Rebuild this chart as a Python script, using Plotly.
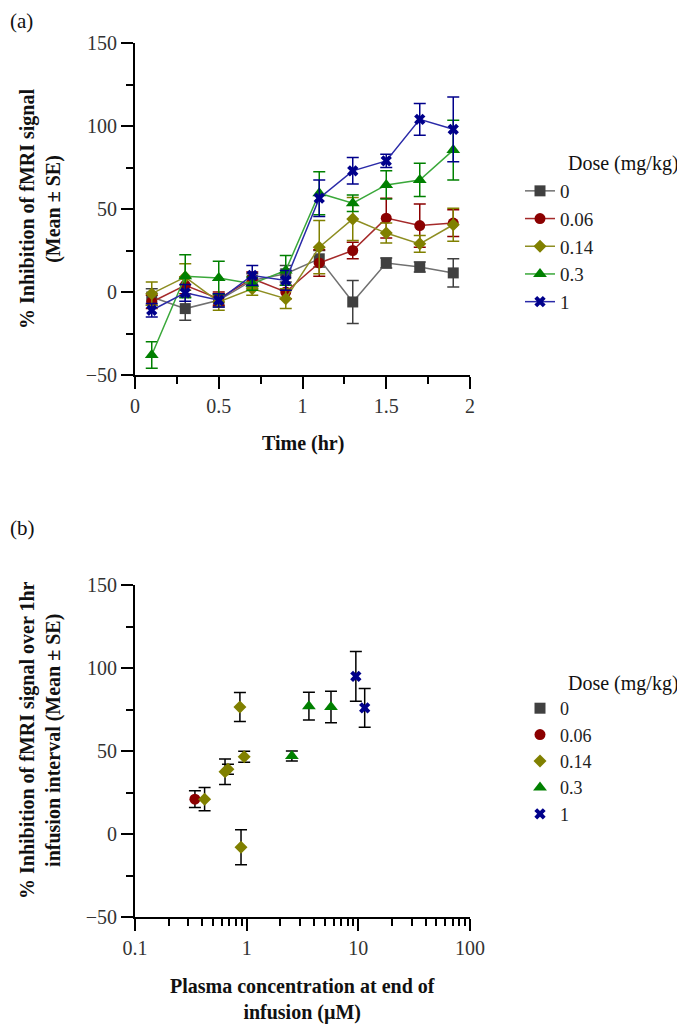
import plotly.graph_objects as go

# ---------------- Panel (a) data ----------------
time_hr = [0.1, 0.3, 0.5, 0.7, 0.9, 1.1, 1.3, 1.5, 1.7, 1.9]
dose_labels = ["0", "0.06", "0.14", "0.3", "1"]

mean_d0 = [-3, -10, -5, 7, 11, 20, -6, 17.5, 15, 11.5]
se_d0 = [5, 7, 4, 4, 5, 5, 13, 3, 3, 8.5]
mean_d006 = [-6, 4, -4, 8, 0, 17.5, 25, 44.5, 40, 41.5]
se_d006 = [4, 5, 4, 4, 4, 8, 5, 12, 13, 8]
mean_d014 = [-1, 9, -6, 2, -4, 27, 44, 35.5, 29, 40.5]
se_d014 = [7, 8, 5, 4, 6, 16, 13, 6, 5, 10]
mean_d03 = [-38, 9.5, 8.5, 5, 13, 59.5, 53.5, 64.5, 67.5, 85.5]
se_d03 = [8, 13, 10, 4, 9, 13, 5, 8.5, 10, 18]
mean_d1 = [-11, -0.5, -5, 10, 7, 56.5, 73, 79, 104, 98]
se_d1 = [4, 5, 4, 6, 6, 11, 8, 4, 9.5, 19.5]

# ---------------- Panel (b) data ----------------
conc_d0 = [None]
inh_d0 = [None]
se_b_d0 = [None]
conc_d006 = [0.344]
inh_d006 = [21]
se_b_d006 = [5]
conc_d014 = [0.42, 0.64, 0.68, 0.87, 0.89, 0.95]
inh_d014 = [21, 37.5, 39, 76.5, -8, 46.5]
se_b_d014 = [7, 7.7, 3, 8.8, 10.5, 3.3]
conc_d03 = [2.54, 3.61, 5.69]
inh_d03 = [47, 77, 76.5]
se_b_d03 = [3, 8.4, 9.5]
conc_d1 = [9.5, 11.4]
inh_d1 = [95, 76]
se_b_d1 = [15, 11.7]

marker_colors = ["#404040", "#8b0000", "#808000", "#008000", "#00008b"]
line_colors = ["#707070", "#a52a2a", "#8e8e22", "#3aa83a", "#2a2aa8"]
symbols = ["square", "circle", "diamond", "triangle-up", "x"]
msizes = [11, 11, 10, 12, 10]

FONT = "Liberation Serif, Times New Roman, serif"

# Page has an 8px body margin: figure is sized/offset to compensate.
OFF = 8

fig = go.Figure()

a_means = [mean_d0, mean_d006, mean_d014, mean_d03, mean_d1]
a_ses = [se_d0, se_d006, se_d014, se_d03, se_d1]
for i, lab in enumerate(dose_labels):
    fig.add_trace(go.Scatter(
        x=time_hr, y=a_means[i], name=lab, mode="lines+markers",
        xaxis="x", yaxis="y", legend="legend",
        line=dict(color=line_colors[i], width=1.5),
        marker=dict(symbol=symbols[i], size=msizes[i], color=marker_colors[i]),
        error_y=dict(type="data", array=a_ses[i], visible=True,
                     color=marker_colors[i], thickness=1.5, width=6),
        cliponaxis=False,
    ))

b_x = [conc_d0, conc_d006, conc_d014, conc_d03, conc_d1]
b_y = [inh_d0, inh_d006, inh_d014, inh_d03, inh_d1]
b_se = [se_b_d0, se_b_d006, se_b_d014, se_b_d03, se_b_d1]
for i, lab in enumerate(dose_labels):
    fig.add_trace(go.Scatter(
        x=b_x[i], y=b_y[i], name=lab, mode="markers",
        xaxis="x2", yaxis="y2", legend="legend2",
        marker=dict(symbol=symbols[i], size=msizes[i], color=marker_colors[i]),
        error_y=dict(type="data", array=b_se[i], visible=True,
                     color="black", thickness=1.5, width=6),
        cliponaxis=False,
    ))

tick_font = dict(family=FONT, size=20, color="#333")
axis_common = dict(
    showline=True, linecolor="black", linewidth=2, ticks="outside",
    ticklen=12, tickwidth=1.5, tickcolor="black", showgrid=False,
    zeroline=False, tickfont=tick_font,
)

dom_a = [(917 - 375) / 874, 1.0]
dom_b = [0.0, (917 - 585) / 874]

W, H = 685 - OFF, 1024 - OFF
fig.update_layout(
    width=W, height=H,
    margin=dict(l=135 - OFF, r=685 - 470, t=43 - OFF, b=1024 - 917),
    paper_bgcolor="white", plot_bgcolor="white",
    font=dict(family=FONT, size=18, color="#222"),
    xaxis=dict(axis_common, range=[0, 2], dtick=0.5, anchor="y",
               minor=dict(ticks="outside", ticklen=7, dtick=0.25, tickcolor="black", tickwidth=1.5)),
    yaxis=dict(axis_common, range=[-50, 150], dtick=50, domain=dom_a, anchor="x",
               minor=dict(ticks="outside", ticklen=7, dtick=25, tickcolor="black", tickwidth=1.5)),
    xaxis2=dict(axis_common, type="log", range=[-1, 2], anchor="y2",
                tickvals=[0.1, 1, 10, 100], ticktext=["0.1", "1", "10", "100"],
                minor=dict(ticks="outside", ticklen=7, dtick="D1", tickcolor="black", tickwidth=1.5)),
    yaxis2=dict(axis_common, range=[-50, 150], dtick=50, domain=dom_b, anchor="x2",
                minor=dict(ticks="outside", ticklen=7, dtick=25, tickcolor="black", tickwidth=1.5)),
    legend=dict(x=(520 - 135) / 335, y=(917 - 172) / 874, xanchor="left", yanchor="top",
                font=dict(family=FONT, size=19, color="#222"), itemsizing="trace",
                bgcolor="rgba(0,0,0,0)"),
    legend2=dict(x=(520 - 135) / 335, y=(917 - 690) / 874, xanchor="left", yanchor="top",
                 font=dict(family=FONT, size=18, color="#222"), itemsizing="trace",
                 bgcolor="rgba(0,0,0,0)"),
    showlegend=True,
)

ann_font = dict(family=FONT, size=20, color="#111")
title_font = dict(family=FONT, size=20, color="#111")
annotations = [
    dict(text="(a)", x=(OFF - 135) / 335, y=(917 - 21) / 874, xanchor="left", yanchor="middle",
         font=dict(family=FONT, size=21, color="#111")),
    dict(text="(b)", x=(OFF - 135) / 335, y=(917 - 528) / 874, xanchor="left", yanchor="middle",
         font=dict(family=FONT, size=21, color="#111")),
    dict(text="Dose (mg/kg)", x=(566 - 135) / 335, y=(917 - 163) / 874, xanchor="left", yanchor="middle",
         font=ann_font),
    dict(text="Dose (mg/kg)", x=(566 - 135) / 335, y=(917 - 683) / 874, xanchor="left", yanchor="middle",
         font=ann_font),
    dict(text="<b>% Inhibition of fMRI signal</b><br><b>(Mean ± SE)</b>", textangle=-90,
         x=(40 - 135) / 335, y=(917 - 209) / 874, xanchor="center", yanchor="middle",
         font=title_font),
    dict(text="<b>% Inhibition of fMRI signal over 1hr</b><br><b>infusion interval (Mean ± SE)</b>",
         textangle=-90, x=(40 - 135) / 335, y=(917 - 740) / 874, xanchor="center", yanchor="middle",
         font=title_font),
    dict(text="<b>Time (hr)</b>", x=0.5, y=(917 - 443) / 874, xanchor="center", yanchor="middle",
         font=title_font),
    dict(text="<b>Plasma concentration at end of</b><br><b>infusion (µM)</b>", x=0.5,
         y=(917 - 999) / 874, xanchor="center", yanchor="middle", font=title_font),
]
for a in annotations:
    a.update(xref="paper", yref="paper", showarrow=False)
fig.update_layout(annotations=annotations)

fig.write_html("out.html")
